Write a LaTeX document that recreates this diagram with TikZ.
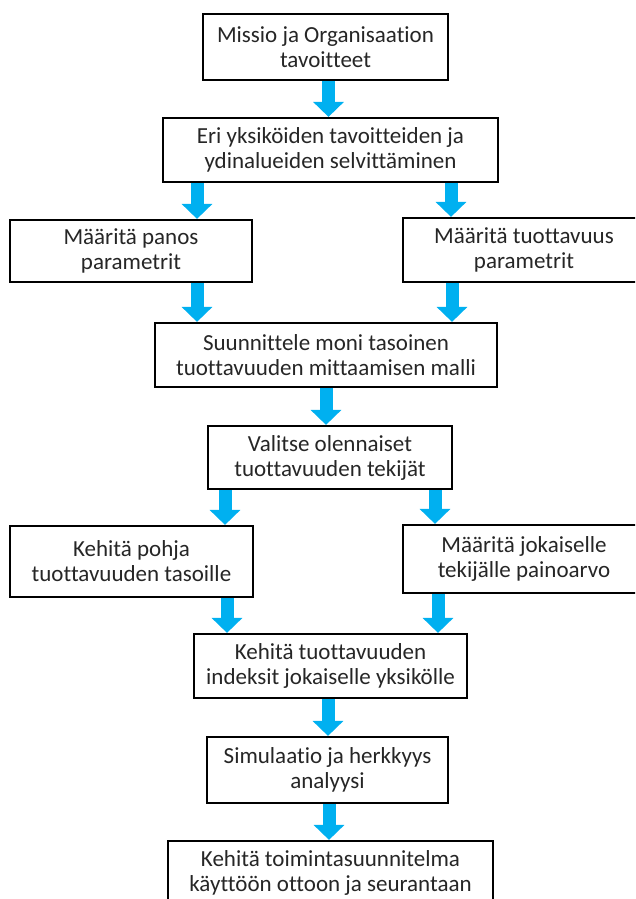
\documentclass[tikz,border=0pt]{standalone}
\usepackage{fontspec}
\setmainfont{Carlito}[Ligatures=NoCommon]
\definecolor{flowblue}{RGB}{0,176,240}
\definecolor{labelgray}{RGB}{38,38,38}
\usetikzlibrary{arrows.meta,positioning}

\begin{document}
\begin{tikzpicture}[x=1pt,y=-1pt,
    stage/.style={draw=black,line width=2.2pt,fill=white,align=center,inner sep=2pt,
      text=labelgray,font=\fontsize{23}{25}\selectfont},
    flow/.style={flowblue,line width=13pt,-{Triangle[width=30pt,length=15pt]}}]
  \clip (0,0) rectangle (635,899);
  \node[stage,minimum width=245,minimum height=66] (mission) at (325.5,47) {Missio ja Organisaation\\tavoitteet};
  \node[stage,minimum width=335,minimum height=64] (goals) at (330.5,150) {Eri yksiköiden tavoitteiden ja\\ydinalueiden selvittäminen};
  \node[stage,minimum width=242,minimum height=62] (inputs) at (131,251) {Määritä panos\\parametrit};
  \node[stage,minimum width=242,minimum height=64] (outputs) at (524,250) {Määritä tuottavuus\\parametrit};
  \node[stage,minimum width=342,minimum height=64] (model) at (326,355) {Suunnittele moni tasoinen\\tuottavuuden mittaamisen malli};
  \node[stage,minimum width=244,minimum height=63] (factors) at (330,457.5) {Valitse olennaiset\\tuottavuuden tekijät};
  \node[stage,minimum width=243,minimum height=71] (levels) at (131.5,561.5) {Kehitä pohja\\tuottavuuden tasoille};
  \node[stage,minimum width=242,minimum height=68] (weights) at (524,559) {Määritä jokaiselle\\tekijälle painoarvo};
  \node[stage,minimum width=273,minimum height=64] (indices) at (330.5,666) {Kehitä tuottavuuden\\indeksit jokaiselle yksikölle};
  \node[stage,minimum width=241,minimum height=66] (simulation) at (327.5,770) {Simulaatio ja herkkyys\\analyysi};
  \node[stage,minimum width=325,minimum height=64] (plan) at (330.5,873) {Kehitä toimintasuunnitelma\\käyttöön ottoon ja seurantaan};
  % blue block arrows, x offset from the target's top edge
  \foreach \a/\b/\dx in {mission/goals/-2, goals/inputs/66, goals/outputs/-73,
      inputs/model/-129, outputs/model/126, model/factors/-4,
      factors/levels/93.5, factors/weights/-89, levels/indices/-103.5,
      weights/indices/107.5, indices/simulation/0.5, simulation/plan/-1.5}{
    \coordinate (tip) at ([xshift=\dx pt]\b.north);
    \draw[flow] (tip |- \a.south) -- (tip);
  }
\end{tikzpicture}
\end{document}
